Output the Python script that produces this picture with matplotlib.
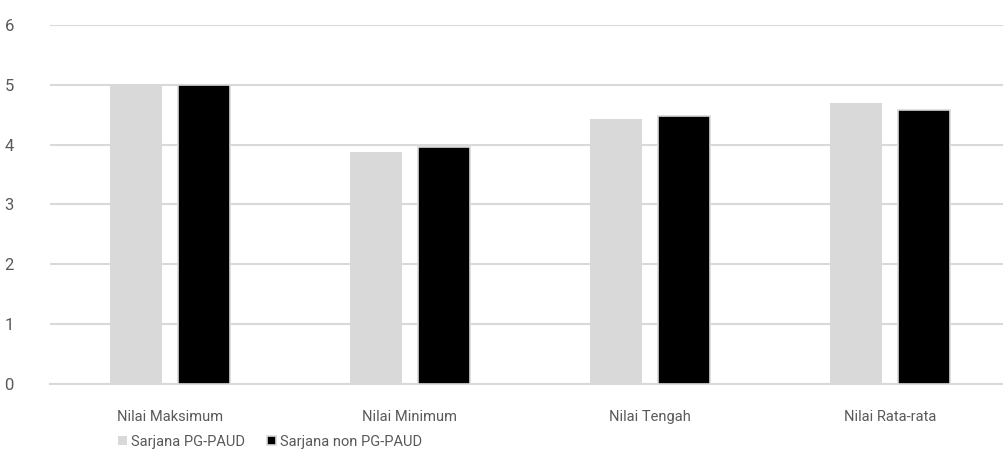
import matplotlib
matplotlib.use("Agg")
import matplotlib.pyplot as plt
import numpy as np

# data
categories = ['Nilai Maksimum', 'Nilai Minimum', 'Nilai Tengah', 'Nilai Rata-rata']
pg_paud = [5.0, 3.87, 4.43, 4.70]
non_pg_paud = [5.0, 3.96, 4.48, 4.58]
series_names = ['Sarjana PG-PAUD', 'Sarjana non PG-PAUD']
y_ticks = [0, 1, 2, 3, 4, 5, 6]

plt.rcParams['font.family'] = ['Roboto', 'DejaVu Sans']

fig = plt.figure(figsize=(10.04, 4.62), dpi=100)
ax = fig.add_axes([50 / 1004, 78 / 462, 960 / 1004, 359 / 462])

x = np.arange(len(categories))
size = 0.22
off = 0.142
ax.bar(x - off, pg_paud, width=size, color='#d9d9d9', label=series_names[0], zorder=3)
ax.bar(x + off, non_pg_paud, width=size, color='black', edgecolor='#d9d9d9',
       linewidth=1.2, label=series_names[1], zorder=3)

ax.set_xlim(-0.5, 3.5)
ax.set_ylim(0, 6)
ax.set_yticks(y_ticks)
ax.set_xticks(x)
ax.set_xticklabels(categories)
ax.grid(axis='y', color='#d9d9d9', linewidth=1.5, zorder=0)
ax.set_axisbelow(True)
for s in ['top', 'right', 'left']:
    ax.spines[s].set_visible(False)
ax.spines['bottom'].set_color('#d9d9d9')
ax.spines['bottom'].set_linewidth(1.5)
ax.tick_params(axis='x', length=0, colors='#595959', labelsize=10.5, pad=19)
ax.tick_params(axis='y', length=0, colors='#595959', labelsize=12, pad=26)

fig.legend(loc='lower center', bbox_to_anchor=(270 / 1004, 0.0), ncol=2, frameon=False,
           fontsize=10.5, handlelength=0.6, handleheight=0.6, handletextpad=0.3,
           columnspacing=1.5, labelcolor='#595959')

fig.savefig('out.png', dpi=100)
